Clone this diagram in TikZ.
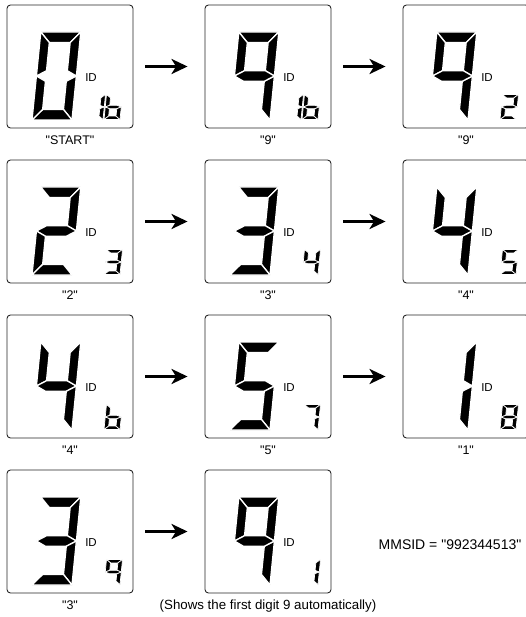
\documentclass[tikz,border=0pt]{standalone}
\usepackage{fontspec}
\setmainfont{Liberation Sans}
\usetikzlibrary{arrows.meta,positioning}

% segment outlines of one LCD digit, unit cell 1 x 2
\def\segt{0.2}
\def\lcdpatha{(0,2) -- (1,2) -- (1-\segt,2-\segt) -- (\segt,2-\segt) -- cycle}
\def\lcdpathb{(1,2) -- (1,1) -- (1-\segt,1+\segt/2) -- (1-\segt,2-\segt) -- cycle}
\def\lcdpathc{(1,1) -- (1,0) -- (1-\segt,\segt) -- (1-\segt,1-\segt/2) -- cycle}
\def\lcdpathd{(0,0) -- (1,0) -- (1-\segt,\segt) -- (\segt,\segt) -- cycle}
\def\lcdpathe{(0,0) -- (0,1) -- (\segt,1-\segt/2) -- (\segt,\segt) -- cycle}
\def\lcdpathf{(0,2) -- (0,1) -- (\segt,1+\segt/2) -- (\segt,2-\segt) -- cycle}
\def\lcdpathg{(0,1) -- (\segt,1+\segt/2) -- (1-\segt,1+\segt/2) -- (1,1) -- (1-\segt,1-\segt/2) -- (\segt,1-\segt/2) -- cycle}
\def\lcdpathn{(0,0)}
\newcommand{\lcdpiece}[1]{\fill[lcdfill] #1;}
\newcommand{\lcddigit}[4]{%
  \begin{scope}[shift={(#2.center)},shift={#3},#1]
    \foreach \sg in #4 {\expandafter\expandafter\expandafter\lcdpiece\expandafter\expandafter\expandafter{\csname lcdpath\sg\endcsname}}
  \end{scope}}
\newcommand{\qtd}[1]{\textquotedbl#1\textquotedbl}

\begin{document}
\begin{tikzpicture}[
  x=1pt,y=1pt,
  dispbox/.style={draw=black!85,line width=0.9pt,rounded corners=3.5pt,minimum width=126pt,minimum height=123pt,inner sep=0pt},
  lcdfill/.style={fill=black,draw=white,line width=1.3pt},
  bigdigit/.style={xslant=0.1,xscale=40,yscale=44,/utils/exec={\def\segt{0.24}}},
  smalldigit/.style={xslant=0.1,xscale=16,yscale=12.5,/utils/exec={\def\segt{0.27}},lcdfill/.append style={line width=0.7pt}},
  caption/.style={font=\fontsize{12.5}{14}\selectfont,inner sep=0pt,text height=9pt,text depth=0pt},
  idtext/.style={font=\fontsize{11.5}{13}\selectfont,inner sep=0pt},
  arrow/.style={-{Stealth[length=16pt,width=15pt,inset=4.5pt]},line width=3pt,shorten <=12pt,shorten >=17pt}
]
  \useasboundingbox (0,0) rectangle (526,-617);
  \clip (0,0) rectangle (526,-617);
  % displays: number / centre / big digit / two small digits / caption
  \foreach \i/\cx/\cy/\big/\smA/\smB/\txt in {
    1/70/66.5/{a,b,c,d,e,f}/{b,c}/{f,g,e,d,c}/\qtd{START},
    2/268/66.5/{a,b,c,f,g}/{b,c}/{f,g,e,d,c}/\qtd{9},
    3/466/66.5/{a,b,c,f,g}/{n}/{a,b,g,e,d}/\qtd{9},
    4/70/221.5/{a,b,g,e,d}/{n}/{a,b,g,c,d}/\qtd{2},
    5/268/221.5/{a,b,g,c,d}/{n}/{f,g,b,c}/\qtd{3},
    6/466/221.5/{f,g,b,c}/{n}/{a,f,g,c,d}/\qtd{4},
    7/70/376.5/{f,g,b,c}/{n}/{f,g,e,d,c}/\qtd{4},
    8/268/376.5/{a,f,g,c,d}/{n}/{a,b,c}/\qtd{5},
    9/466/376.5/{b,c}/{n}/{a,b,c,d,e,f,g}/\qtd{1},
    10/70/531.5/{a,b,g,c,d}/{n}/{a,b,c,f,g}/\qtd{3},
    11/268/531.5/{a,b,c,f,g}/{n}/{b,c}/{\fontsize{13.3}{15}\selectfont(Shows the first digit 9 automatically)}}
  {
    \node[dispbox] (d\i) at (\cx,-\cy) {};
    \node[idtext] (id\i) at ([shift={(21pt,-11.5pt)}]d\i.center) {ID};
    \node[caption,below=6.5pt of d\i] (c\i) {\txt};
    \lcddigit{bigdigit}{d\i}{(-38pt,-53.5pt)}{\big}
    \lcddigit{smalldigit}{d\i}{(17pt,-53pt)}{\smA}
    \lcddigit{smalldigit}{d\i}{(34pt,-53pt)}{\smB}
  }
  \foreach \a/\b in {1/2,2/3,4/5,5/6,7/8,8/9,10/11}
    \draw[arrow] (d\a) -- (d\b);
  \node[caption,font=\fontsize{14}{16}\selectfont] (mmsid) at (450,-545) {MMSID = \qtd{992344513}};
\end{tikzpicture}
\end{document}
